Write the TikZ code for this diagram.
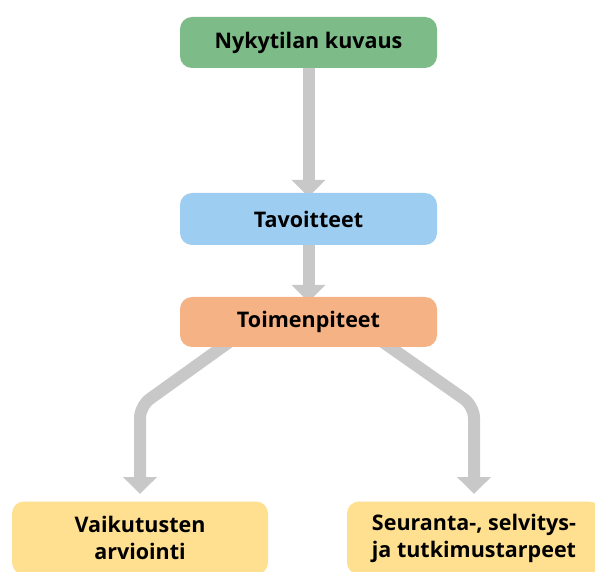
\documentclass[tikz,border=0pt]{standalone}
\usepackage{fontspec}
\setmainfont{Open Sans}
\usetikzlibrary{arrows.meta}
\pgfdeclarelayer{bg}
\pgfsetlayers{bg,main}
\definecolor{cgreen}{HTML}{7DBB88}
\definecolor{cblue}{HTML}{9DCDF0}
\definecolor{corange}{HTML}{F5B285}
\definecolor{cyellow}{HTML}{FFDF90}
\definecolor{cgray}{HTML}{C8C8C8}
\tikzset{
  box/.style={rounded corners=12pt, inner sep=0pt, font=\fontsize{21.5}{27}\selectfont\bfseries, align=center, text=black},
  flow/.style={draw=cgray, line width=12pt, rounded corners=12pt, -{Triangle[width=33pt,length=17pt]}}
}
\begin{document}
\begin{tikzpicture}[x=1pt,y=-1pt]
\clip (0,0) rectangle (595,572);
% boxes
\node[box, fill=cgreen, minimum width=257pt, minimum height=51pt] (n1) at (308.5,42.5) {Nykytilan kuvaus};
\node[box, fill=cblue, minimum width=257pt, minimum height=52pt] (n2) at (308.5,219) {Tavoitteet};
\node[box, fill=corange, minimum width=257pt, minimum height=50pt] (n3) at (308.5,322) {Toimenpiteet};
\node[box, fill=cyellow, minimum width=256pt, minimum height=73pt] (n4) at (140,538) {Vaikutusten\\arviointi};
\node[box, fill=cyellow, minimum width=254pt, minimum height=73pt] (n5) at (474,538) {Seuranta-, selvitys-\\ja tutkimustarpeet};
% connectors
\coordinate (s3l) at (232,340);
\coordinate (s3r) at (380,340);
\coordinate (bl) at (140,406);
\coordinate (br) at (474,406);
\coordinate (tl) at (140,494);
\coordinate (tr) at (474,494);
\begin{pgfonlayer}{bg}
\fill[white] (0,0) rectangle (595,572);
\draw[flow] (n1.south) -- ([yshift=-4pt]n2.north);
\draw[flow] (n2.south) -- ([yshift=-5pt]n3.north);
\draw[flow] (s3l) -- (bl) -- (tl);
\draw[flow] (s3r) -- (br) -- (tr);
\end{pgfonlayer}
\end{tikzpicture}
\end{document}
